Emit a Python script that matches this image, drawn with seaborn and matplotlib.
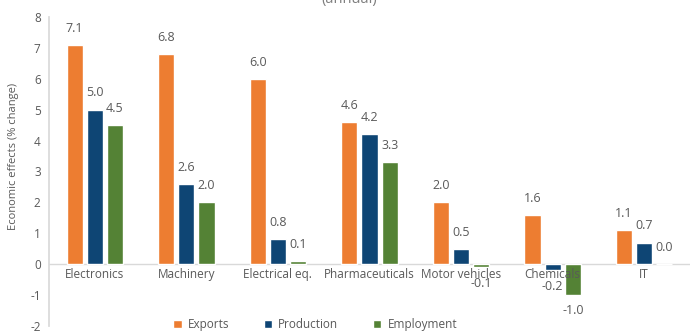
import numpy as np
import pandas as pd
import matplotlib
matplotlib.use("Agg")
import matplotlib.pyplot as plt
import seaborn as sns

# data
sectors = ["Electronics", "Machinery", "Electrical eq.", "Pharmaceuticals",
           "Motor vehicles", "Chemicals", "IT"]
exports = [7.1, 6.8, 6.0, 4.6, 2.0, 1.6, 1.1]
production = [5.0, 2.6, 0.8, 4.2, 0.5, -0.2, 0.7]
employment = [4.5, 2.0, 0.1, 3.3, -0.1, -1.0, 0.0]
series = ["Exports", "Production", "Employment"]
colors = ["#ED7D31", "#0E4574", "#548235"]
yticks = list(range(-2, 9))

df = pd.DataFrame({
    "sector": sectors * 3,
    "series": np.repeat(series, len(sectors)),
    "value": exports + production + employment,
})

sns.set_theme(style="white")
plt.rcParams["font.family"] = ["Open Sans", "DejaVu Sans"]
txt = "#595959"

fig = plt.figure(figsize=(6.93, 3.33), dpi=100)
ax = fig.add_axes([0.0707, 0.021, 0.925, 0.928])

sns.barplot(data=df, x="sector", y="value", hue="series", hue_order=series,
            palette=colors, width=0.66, gap=0.2, ax=ax, legend=True,
            saturation=1, errorbar=None)

ax.set_ylim(-2, 8)
ax.set_yticks(yticks)
ax.set_yticklabels([str(t) for t in yticks], color=txt, fontsize=8.5)
ax.tick_params(axis="both", length=0, pad=6)
ax.set_xlabel("")
ax.set_ylabel("Economic effects (% change)", color=txt, fontsize=8)
ax.yaxis.set_label_coords(-0.047, 0.55)
ax.set_xticks([])

for s in ["top", "right", "bottom"]:
    ax.spines[s].set_visible(False)
ax.spines["left"].set_color("#D9D9D9")
ax.axhline(0, color="#D9D9D9", lw=1, zorder=0)

# category labels under the zero line
for i, name in enumerate(sectors):
    ax.text(i, -0.12, name, ha="center", va="top", fontsize=8.5, color=txt)

# value labels
for cont in ax.containers:
    for bar in cont:
        h = bar.get_height()
        x = bar.get_x() + bar.get_width() / 2
        if h >= 0:
            ax.text(x, h + 0.33, f"{h:.1f}", ha="center", va="bottom",
                    fontsize=9, color=txt)
        else:
            ax.text(x, h - 0.3, f"{h:.1f}", ha="center", va="top",
                    fontsize=9, color=txt)

ax.legend(loc="center", bbox_to_anchor=(0.415, 0.004), ncol=3,
          frameon=False, fontsize=8.5, handlelength=0.75, handleheight=0.75,
          columnspacing=2.9, handletextpad=0.5, labelcolor=txt)

fig.text(0.504, 1.0, "(annual)", ha="center", va="center", fontsize=10.5,
         color="#7F7F7F")

fig.savefig("out.png", dpi=100)
